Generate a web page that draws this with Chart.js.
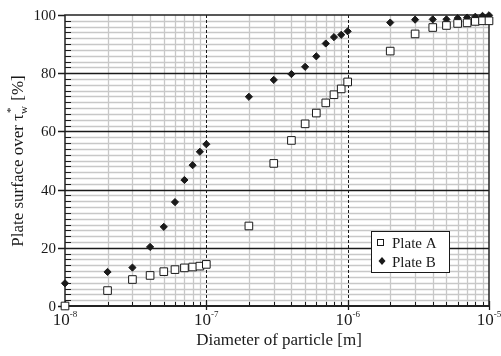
<!DOCTYPE html>
<html>
<head>
<meta charset="utf-8">
<script src="https://cdn.jsdelivr.net/npm/chart.js@4/dist/chart.umd.min.js"></script>
<style>
  html, body { margin: 0; padding: 0; background: #fff; }
  canvas { display: block; }
</style>
</head>
<body>
<canvas id="chart" width="501" height="356"></canvas>
<script>
// particle diameters [m], shared by both plates
const diameters = [
  1e-8, 2e-8, 3e-8, 4e-8, 5e-8, 6e-8, 7e-8, 8e-8, 9e-8,
  1e-7, 2e-7, 3e-7, 4e-7, 5e-7, 6e-7, 7e-7, 8e-7, 9e-7,
  1e-6, 2e-6, 3e-6, 4e-6, 5e-6, 6e-6, 7e-6, 8e-6, 9e-6,
  1e-5
];
const plateA = [
  0, 5.3, 9.1, 10.5, 11.8, 12.5, 13.1, 13.4, 13.7,
  14.3, 27.5, 49.0, 56.9, 62.6, 66.3, 69.8, 72.6, 74.6,
  77.0, 87.6, 93.5, 95.7, 96.4, 97.1, 97.3, 97.8, 98.0,
  98.0
];
const plateB = [
  7.8, 11.7, 13.2, 20.3, 27.2, 35.7, 43.3, 48.4, 53.0,
  55.6, 71.9, 77.7, 79.7, 82.2, 85.8, 90.2, 92.4, 93.2,
  94.4, 97.4, 98.4, 98.5, 98.5, 98.9, 99.1, 99.4, 99.7,
  99.9
];
const seriesNames = ['Plate A', 'Plate B'];

// axis ticks
const xDecades = [1e-8, 1e-7, 1e-6, 1e-5];
const xExponents = ['-8', '-7', '-6', '-5'];
const yMajor = [0, 20, 40, 60, 80, 100];
const yMinorStep = 2;

const serif = '"Liberation Serif", "Times New Roman", serif';

// minor positions 2..9 inside each decade
const xMinor = [];
xDecades.slice(0, -1).forEach(d => {
  for (let k = 2; k <= 9; k++) xMinor.push(d * k);
});
const yMinor = [];
for (let v = 0; v <= 100; v += yMinorStep) {
  if (v % 20 !== 0) yMinor.push(v);
}

function drawPower(ctx, base, exp, cx, baseline, size, expSize) {
  ctx.font = size + 'px ' + serif;
  const wb = ctx.measureText(base).width;
  ctx.font = expSize + 'px ' + serif;
  const we = ctx.measureText(exp).width;
  const left = cx - (wb + we) / 2;
  ctx.textAlign = 'left';
  ctx.textBaseline = 'alphabetic';
  ctx.font = size + 'px ' + serif;
  ctx.fillText(base, left, baseline);
  ctx.font = expSize + 'px ' + serif;
  ctx.fillText(exp, left + wb, baseline - 8.5);
}

const framePlugin = {
  id: 'frame',
  beforeDatasetsDraw(chart) {
    const { ctx, chartArea: a, scales: { x, y } } = chart;
    ctx.save();

    // light grid
    ctx.strokeStyle = '#c8c8c8';
    ctx.lineWidth = 1.3;
    ctx.beginPath();
    xMinor.forEach(v => {
      const px = Math.round(x.getPixelForValue(v)) + 0.5;
      ctx.moveTo(px, a.top); ctx.lineTo(px, a.bottom);
    });
    yMinor.forEach(v => {
      const py = Math.round(y.getPixelForValue(v)) + 0.5;
      ctx.moveTo(a.left, py); ctx.lineTo(a.right, py);
    });
    ctx.stroke();

    // major horizontals
    ctx.strokeStyle = '#1a1a1a';
    ctx.lineWidth = 1.3;
    ctx.beginPath();
    yMajor.slice(1, -1).forEach(v => {
      const py = Math.round(y.getPixelForValue(v)) + 0.5;
      ctx.moveTo(a.left, py); ctx.lineTo(a.right, py);
    });
    ctx.stroke();

    // dashed decade lines
    ctx.setLineDash([3, 2]);
    ctx.lineWidth = 1;
    ctx.beginPath();
    xDecades.slice(1, -1).forEach(v => {
      const px = Math.round(x.getPixelForValue(v)) + 0.5;
      ctx.moveTo(px, a.top); ctx.lineTo(px, a.bottom);
    });
    ctx.stroke();
    ctx.setLineDash([]);

    // minor ticks, inside
    ctx.lineWidth = 1;
    ctx.beginPath();
    yMinor.forEach(v => {
      const py = Math.round(y.getPixelForValue(v)) + 0.5;
      ctx.moveTo(a.left, py); ctx.lineTo(a.left + 6, py);
    });
    xMinor.forEach(v => {
      const px = Math.round(x.getPixelForValue(v)) + 0.5;
      ctx.moveTo(px, a.bottom); ctx.lineTo(px, a.bottom - 4);
    });
    ctx.stroke();

    // major ticks
    ctx.lineWidth = 1.3;
    ctx.beginPath();
    yMajor.forEach(v => {
      const py = Math.round(y.getPixelForValue(v)) + 0.5;
      ctx.moveTo(a.left - 7, py); ctx.lineTo(a.left, py);
    });
    xDecades.forEach(v => {
      const px = Math.round(x.getPixelForValue(v)) + 0.5;
      ctx.moveTo(px, a.bottom - 5); ctx.lineTo(px, a.bottom + 4);
    });
    ctx.stroke();

    // frame
    ctx.strokeStyle = '#222';
    ctx.lineWidth = 1.5;
    ctx.strokeRect(a.left, a.top, a.right - a.left, a.bottom - a.top);
    ctx.lineWidth = 2.2;
    ctx.beginPath();
    ctx.moveTo(a.left, a.bottom); ctx.lineTo(a.right, a.bottom);
    ctx.stroke();

    ctx.restore();
  },
  afterDraw(chart) {
    const { ctx, chartArea: a, scales: { x, y } } = chart;
    ctx.save();
    ctx.fillStyle = '#1a1a1a';

    // y tick labels
    ctx.font = '15px ' + serif;
    ctx.textAlign = 'right';
    ctx.textBaseline = 'middle';
    yMajor.forEach(v => {
      ctx.fillText(String(v), a.left - 9, y.getPixelForValue(v) + 1);
    });

    // x tick labels
    xDecades.forEach((v, i) => {
      drawPower(ctx, '10', xExponents[i], x.getPixelForValue(v), a.bottom + 19, 17, 9);
    });

    // x title
    ctx.font = '17px ' + serif;
    ctx.textAlign = 'center';
    ctx.textBaseline = 'alphabetic';
    ctx.fillText('Diameter of particle [m]', (a.left + a.right) / 2 + 2, 345);

    // y title with tau_w^*
    ctx.translate(23, 161);
    ctx.rotate(-Math.PI / 2);
    const big = '17px ' + serif, small = '11px ' + serif;
    ctx.font = big;
    const t1 = 'Plate surface over \u03c4';
    const t2 = ' [%]';
    const w1 = ctx.measureText(t1).width;
    const w2 = ctx.measureText(t2).width;
    ctx.font = small;
    const ws = ctx.measureText('w').width + 1;
    const total = w1 + ws + w2;
    let cx = -total / 2;
    ctx.textAlign = 'left';
    ctx.font = big;
    ctx.fillText(t1, cx, 0);
    cx += w1;
    ctx.font = small;
    ctx.fillText('w', cx, 4);
    ctx.fillText('*', cx + 1, -9);
    cx += ws;
    ctx.font = big;
    ctx.fillText(t2, cx, 0);
    ctx.setTransform(1, 0, 0, 1, 0, 0);

    // legend box
    const lx = 371, ly = 231, lw = 78, lh = 41;
    ctx.fillStyle = '#fff';
    ctx.fillRect(lx, ly, lw, lh);
    ctx.strokeStyle = '#1a1a1a';
    ctx.lineWidth = 1;
    ctx.strokeRect(lx + 0.5, ly + 0.5, lw, lh);
    ctx.fillStyle = '#1a1a1a';
    ctx.font = '15px ' + serif;
    ctx.textAlign = 'left';
    ctx.textBaseline = 'alphabetic';
    chart.data.datasets.forEach((ds, i) => {
      const rowY = ly + 11 + i * 19;
      ctx.lineWidth = 1;
      if (i === 0) {
        ctx.fillStyle = '#fff';
        ctx.fillRect(377, rowY - 3, 6, 6);
        ctx.strokeRect(377.5, rowY - 2.5, 6, 6);
      } else {
        ctx.beginPath();
        ctx.moveTo(382, rowY - 4);
        ctx.lineTo(385.5, rowY);
        ctx.lineTo(382, rowY + 4);
        ctx.lineTo(378.5, rowY);
        ctx.closePath();
        ctx.fillStyle = '#1a1a1a';
        ctx.fill();
      }
      ctx.fillStyle = '#1a1a1a';
      ctx.fillText(ds.label, 392, rowY + 6);
    });

    ctx.restore();
  }
};

const ctx = document.getElementById('chart').getContext('2d');
new Chart(ctx, {
  type: 'scatter',
  data: {
    datasets: [
      {
        label: seriesNames[0],
        data: diameters.map((d, i) => ({ x: d, y: plateA[i] })),
        pointStyle: 'rect',
        pointRadius: 5.4,
        pointHoverRadius: 5.4,
        backgroundColor: '#fff',
        borderColor: '#1a1a1a',
        borderWidth: 1,
        clip: false
      },
      {
        label: seriesNames[1],
        data: diameters.map((d, i) => ({ x: d, y: plateB[i] })),
        pointStyle: 'rectRot',
        pointRadius: 3.6,
        pointHoverRadius: 3.6,
        backgroundColor: '#1a1a1a',
        borderColor: '#1a1a1a',
        borderWidth: 1,
        clip: false
      }
    ]
  },
  options: {
    responsive: false,
    animation: false,
    layout: { padding: { left: 65, right: 12, top: 15, bottom: 50 } },
    plugins: {
      legend: { display: false },
      tooltip: { enabled: false }
    },
    scales: {
      x: { type: 'logarithmic', min: 1e-8, max: 1e-5, display: false },
      y: { type: 'linear', min: 0, max: 100, display: false }
    }
  },
  plugins: [framePlugin]
});
</script>
</body>
</html>
